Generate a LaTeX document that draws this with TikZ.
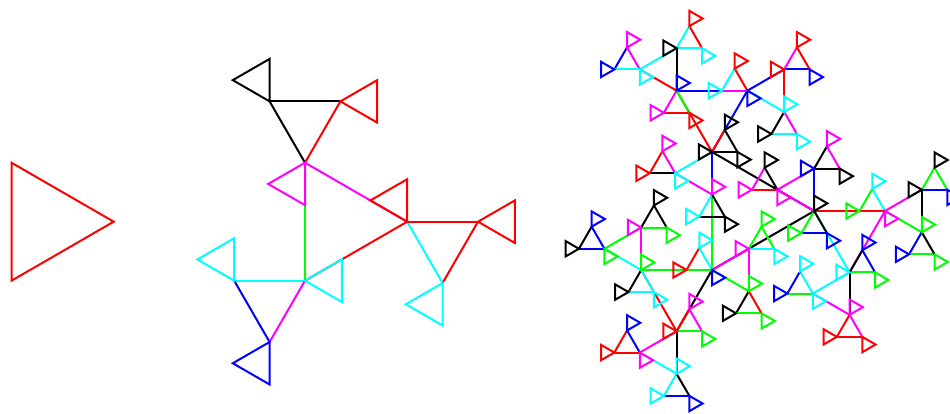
\documentclass[tikz,border=0pt]{standalone}
\pgfdeclarelayer{L0}\pgfdeclarelayer{L1}\pgfdeclarelayer{L2}\pgfdeclarelayer{L3}\pgfdeclarelayer{L4}
\pgfsetlayers{L0,L1,L2,L3,L4,main}
\definecolor{cr}{RGB}{255,0,0}
\definecolor{cg}{RGB}{0,255,0}
\definecolor{cb}{RGB}{0,0,255}
\definecolor{cc}{RGB}{0,255,255}
\definecolor{cm}{RGB}{255,0,255}
\definecolor{ck}{RGB}{0,0,0}
\tikzset{edgeline/.style={line width=2pt,line cap=round},leafline/.style={line width=2pt}}
\def\popcol{\expandafter\popcolA\colq\relax}
\def\popcolA#1,#2\relax{\gdef\curcol{#1}\gdef\colq{#2}}
\newcommand\TEdge[5]{\begin{pgfonlayer}{L#1}\draw[edgeline,draw=c\curcol] (#2,#3) -- (#4,#5);\end{pgfonlayer}}
\newcommand\Tri[6]{%
 \begingroup
 \pgfmathsetmacro\ss{#6}\pgfmathsetmacro\hh{#5}%
 \edef\rem{#1}\edef\lev{#2}%
 \pgfmathsetmacro\xA{#3}\pgfmathsetmacro\yA{#4}%
 \pgfmathsetmacro\xB{\xA+\ss*cos(\hh)}\pgfmathsetmacro\yB{\yA+\ss*sin(\hh)}%
 \pgfmathsetmacro\xC{\xB+\ss*cos(\hh+120)}\pgfmathsetmacro\yC{\yB+\ss*sin(\hh+120)}%
 \ifnum\rem=0
   \popcol
   \begin{pgfonlayer}{L\lev}\draw[leafline,draw=c\curcol] (\xA,\yA) -- (\xB,\yB) -- (\xC,\yC) -- cycle;\end{pgfonlayer}%
 \else
   \pgfmathsetmacro\ns{0.6*\ss}%
   \pgfmathtruncatemacro\nr{\rem-1}\pgfmathtruncatemacro\nl{\lev+1}%
   \pgfmathsetmacro\hA{\hh+150}\pgfmathsetmacro\hB{\hh+270}\pgfmathsetmacro\hC{\hh+30}%
   \Tri{\nr}{\nl}{\xA}{\yA}{\hA}{\ns}%
   \popcol\TEdge{\lev}{\xA}{\yA}{\xB}{\yB}%
   \Tri{\nr}{\nl}{\xB}{\yB}{\hB}{\ns}%
   \popcol\TEdge{\lev}{\xB}{\yB}{\xC}{\yC}%
   \Tri{\nr}{\nl}{\xC}{\yC}{\hC}{\ns}%
   \popcol\TEdge{\lev}{\xC}{\yC}{\xA}{\yA}%
 \fi
 \endgroup}
\gdef\colq{r,%
m,r,r,k,k,k,g,c,c,c,b,b,m,r,r,c,c,r,r,r,m,%
k,k,k,k,k,r,c,c,m,m,r,r,k,m,m,c,c,k,k,k,b,%
b,%
b,r,r,c,c,m,c,c,k,k,c,c,m,r,r,b,b,r,r,m,b,%
b,%
b,m,m,r,r,g,k,k,c,c,r,r,c,c,c,m,m,b,b,c,r,%
r,%
g,%
b,c,c,r,r,g,g,g,k,k,g,g,r,m,m,c,c,g,g,g,m,%
g,%
g,k,k,c,c,c,m,m,g,g,k,k,k,g,g,b,b,k,k,b,c,%
r,%
r,g,g,m,m,r,m,m,b,b,r,r,r,c,c,c,c,b,b,k,k,%
k,%
k,%
k,g,g,b,b,k,b,b,k,k,m,m,k,m,m,k,k,m,m,r,m,%
c,%
c,g,g,b,b,k,c,c,c,c,b,b,g,m,m,r,r,r,r,m,k,%
m,%
m,c,c,g,g,r,g,g,b,b,g,g,k,k,k,b,b,g,k,g,m,%
r,%
k,%
k,k,k,k,k,k,k,k,}
\begin{document}
\begin{tikzpicture}[x=1pt,y=1pt]
\useasboundingbox (0,0) rectangle (950,414);
\begin{pgfonlayer}{L0}\fill[white] (0,0) rectangle (950,414);\end{pgfonlayer}
\Tri{0}{0}{11.5}{251.3}{270}{118}
\Tri{2}{0}{305}{251.3}{270}{118}
\Tri{4}{0}{712}{262}{270}{118}
\end{tikzpicture}
\end{document}
